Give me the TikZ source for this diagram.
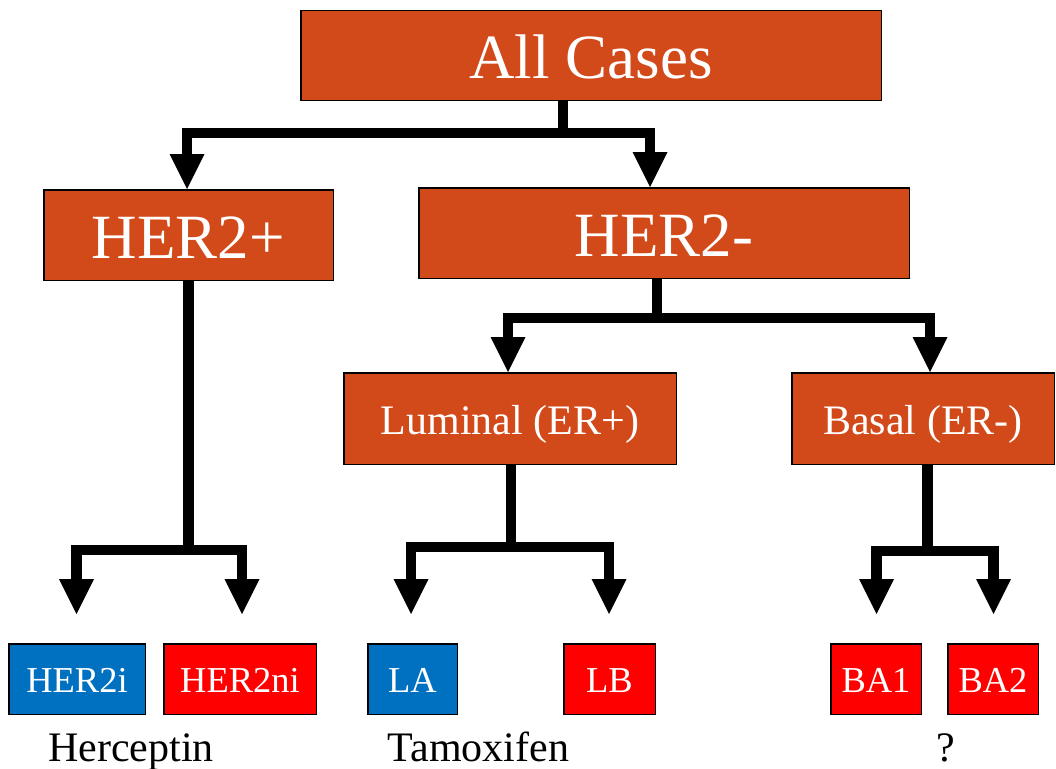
\documentclass[tikz,border=0pt]{standalone}
\usepackage{fontspec}
\setmainfont{Liberation Serif}
\usetikzlibrary{arrows.meta}

\definecolor{catorange}{HTML}{D2491A}
\definecolor{subblue}{HTML}{0070C0}
\definecolor{subred}{HTML}{FF0000}

\tikzset{
  box/.style={draw=black, line width=1.5pt, text=white, inner sep=0pt,
              text depth=0pt, align=center},
  cat/.style={box, fill=catorange},
  big/.style={font=\fontsize{63}{70}\selectfont, text height=46pt},
  mid/.style={font=\fontsize{42}{48}\selectfont, text height=32pt},
  small/.style={font=\fontsize{36.5}{42}\selectfont, text height=27.4pt},
  leaf/.style={box, small, minimum height=70.5pt},
  blueleaf/.style={leaf, fill=subblue},
  redleaf/.style={leaf, fill=subred},
  drug/.style={font=\fontsize{42}{48}\selectfont, anchor=base, inner sep=0pt},
  conn/.style={line width=10.5pt, line join=miter,
               -{Triangle[length=35pt,width=35pt,line width=0pt]}},
}

\begin{document}
\begin{tikzpicture}[x=1pt,y=-1pt]
\useasboundingbox (0,0) rectangle (1056,768);

% category boxes
\node[cat, big, minimum width=580.5pt, minimum height=89.5pt] (all)   at (591,55.5)  {All Cases};
\node[cat, big, minimum width=289.5pt, minimum height=90.5pt] (her2p) at (188.5,235) {HER2+};
\node[cat, big, minimum width=490.5pt, minimum height=90.5pt] (her2m) at (664,233)   {HER2-};
\node[cat, mid, minimum width=332.5pt, minimum height=91.5pt] (lum)   at (510,418.5) {Luminal (ER+)};
\node[cat, mid, minimum width=262.5pt, minimum height=91.5pt] (basal) at (923,418.5) {Basal (ER-)};

% subtype boxes
\node[blueleaf, minimum width=136.5pt] (her2i)  at (77,679)    {HER2i};
\node[redleaf,  minimum width=152.5pt] (her2ni) at (240,679)   {HER2ni};
\node[blueleaf, minimum width=89.5pt]  (la)     at (412.5,679) {LA};
\node[redleaf,  minimum width=91.5pt]  (lb)     at (609.5,679) {LB};
\node[redleaf,  minimum width=90.5pt]  (ba1)    at (876,679)   {BA1};
\node[redleaf,  minimum width=90.5pt]  (ba2)    at (993,679)   {BA2};

% therapy labels
\node[drug] (herceptin) at (131,761)   {Herceptin};
\node[drug] (tamoxifen) at (478.5,761) {Tamoxifen};
\node[drug] (unknown)   at (946,761)   {?};

% branch points
\path ([xshift=-28pt]all.south)  ++(0,32)  coordinate (jall);
\path ([xshift=-7pt]her2m.south) ++(0,39)  coordinate (jm);
\path (her2p.south)              ++(0,269) coordinate (jp);
\path ([xshift=1pt]lum.south)    ++(0,82)  coordinate (jl);
\path ([xshift=4.5pt]basal.south) ++(0,86) coordinate (jb);

% connectors
\draw[conn] ([xshift=-28pt]all.south) -- (jall) -| ([xshift=-1.5pt]her2p.north);
\draw[conn] ([xshift=-28pt]all.south) -- (jall) -| ([xshift=-14pt]her2m.north);

\draw[conn] ([xshift=-7pt]her2m.south) -- (jm) -| ([xshift=-2pt]lum.north);
\draw[conn] ([xshift=-7pt]her2m.south) -- (jm) -| ([xshift=7pt]basal.north);

\draw[conn] (her2p.south) -- (jp) -| ([xshift=-0.5pt,yshift=29pt]her2i.north);
\draw[conn] (her2p.south) -- (jp) -| ([xshift=2pt,yshift=29pt]her2ni.north);

\draw[conn] ([xshift=1pt]lum.south) -- (jl) -| ([xshift=-1.5pt,yshift=29pt]la.north);
\draw[conn] ([xshift=1pt]lum.south) -- (jl) -| ([xshift=-0.5pt,yshift=29pt]lb.north);

\draw[conn] ([xshift=4.5pt]basal.south) -- (jb) -| ([xshift=0.5pt,yshift=29pt]ba1.north);
\draw[conn] ([xshift=4.5pt]basal.south) -- (jb) -| ([xshift=0.5pt,yshift=29pt]ba2.north);
\end{tikzpicture}
\end{document}
